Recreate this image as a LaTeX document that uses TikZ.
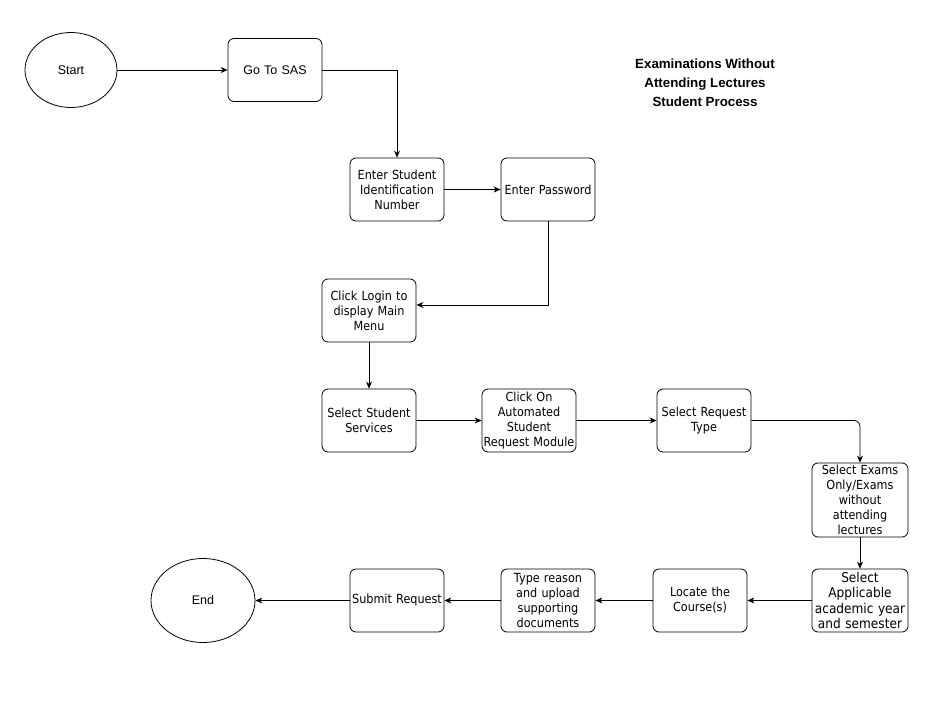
\documentclass[tikz,border=0pt]{standalone}
\usepackage{fontspec}
\setmainfont{Liberation Sans}
\newfontfamily\boxfont[FakeStretch=0.9]{DejaVu Sans}
\usetikzlibrary{arrows.meta,shapes.geometric}
\begin{document}
\begin{tikzpicture}[x=1pt,y=-1pt,
  box/.style={draw, line width=0.8pt, rounded corners=6pt, minimum width=94pt, minimum height=63pt, align=center, inner sep=0pt, font=\boxfont\fontsize{12.5}{15}\selectfont, text width=94pt},
  term/.style={draw, line width=0.8pt, ellipse, inner sep=0pt, font=\fontsize{12.5}{14}\selectfont},
  conn/.style={draw, line width=0.8pt, -{Stealth[length=7pt,width=6pt]}}]
\useasboundingbox (0,0) rectangle (936,706);
\node[term, minimum width=92pt, minimum height=75pt] (start) at (71,70) {Start};
\node[box, font=\fontsize{12.5}{14}\selectfont] (sas) at (275,70) {Go To SAS};
\node[box] (sid) at (397,189.5) {Enter Student\\Identification\\Number};
\node[box] (pwd) at (548,189.5) {Enter Password};
\node[box] (login) at (369,310.5) {Click Login to\\display Main\\Menu};
\node[box] (sss) at (369,420.5) {Select Student\\Services};
\node[box] (asrm) at (529,420.5) {Click On\\Automated\\Student\\Request Module};
\node[box] (srt) at (704,420.5) {Select Request\\Type};
\node[box, minimum width=96pt, minimum height=74pt, text width=96pt] (exo) at (860,500) {Select Exams\\Only/Exams\\without\\attending\\lectures};
\node[box, minimum width=96pt, text width=96pt, font=\boxfont\fontsize{13.5}{15.5}\selectfont] (aca) at (860,600.5) {Select\\Applicable\\academic year\\and semester};
\node[box] (loc) at (700,600.5) {Locate the\\Course(s)};
\node[box] (typ) at (548,600.5) {Type reason\\and upload\\supporting\\documents};
\node[box] (sub) at (397,600.5) {Submit Request};
\node[term, minimum width=104pt, minimum height=84pt] (end) at (203,600.5) {End};
\node[align=center, font=\bfseries\fontsize{13.3}{19}\selectfont] (title) at (705,83) {Examinations Without\\Attending Lectures\\Student Process};
\draw[conn] (start.east) -- (sas.west);
\draw[conn] (sas.east) -| (sid.north);
\draw[conn] (sid.east) -- (pwd.west);
\draw[conn] (pwd.south) |- ([yshift=5.5pt]login.east);
\draw[conn] (login.south) -- (sss.north);
\draw[conn] (sss.east) -- (asrm.west);
\draw[conn] (asrm.east) -- (srt.west);
\draw[conn, rounded corners=6pt] (srt.east) -| (exo.north);
\draw[conn] (exo.south) -- (aca.north);
\draw[conn] (aca.west) -- (loc.east);
\draw[conn] (loc.west) -- (typ.east);
\draw[conn] (typ.west) -- (sub.east);
\draw[conn] (sub.west) -- (end.east);
\end{tikzpicture}
\end{document}
